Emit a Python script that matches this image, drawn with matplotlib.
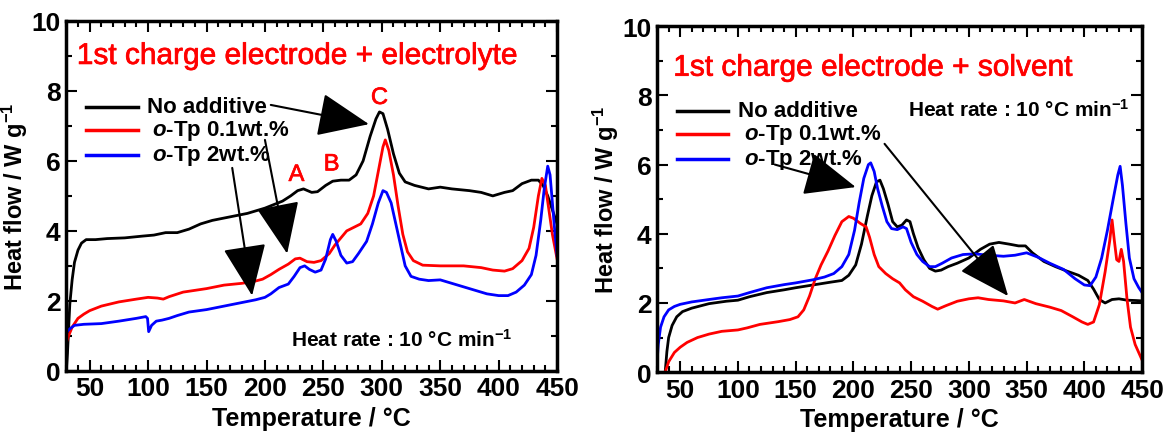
import matplotlib
matplotlib.use("Agg")
import matplotlib.pyplot as plt
import matplotlib.patheffects as pe
from matplotlib.ticker import MultipleLocator

plt.rcParams['font.family'] = ['Liberation Sans', 'DejaVu Sans']
plt.rcParams['font.weight'] = 'bold'
plt.rcParams['mathtext.fontset'] = 'custom'
plt.rcParams['mathtext.it'] = 'Liberation Sans:italic:bold'
plt.rcParams['mathtext.rm'] = 'Liberation Sans:bold'
plt.rcParams['mathtext.default'] = 'rm'

# ---- left panel: electrode + electrolyte ----
l_black_t = [30, 31, 32, 33, 35, 37, 40, 43, 47, 55, 65, 80, 95, 105, 115, 125, 135, 145, 155, 170,
             185, 200, 215, 222, 228, 233, 240, 245, 252, 258, 265, 272, 278, 284, 290, 295, 298, 301,
             305, 310, 315, 320, 328, 340, 350, 360, 375, 385, 395, 405, 412, 420, 428, 434, 438, 442,
             446, 450]
l_black_y = [0.0, 0.5, 1.2, 1.9, 2.6, 3.1, 3.45, 3.65, 3.75, 3.75, 3.78, 3.8, 3.85, 3.88, 3.95, 3.95, 4.05,
             4.2, 4.3, 4.4, 4.5, 4.65, 4.85, 5.0, 5.15, 5.2, 5.1, 5.12, 5.3, 5.42, 5.45, 5.45, 5.6, 6.0, 6.7,
             7.2, 7.4, 7.35, 6.9, 6.2, 5.65, 5.4, 5.3, 5.2, 5.25, 5.2, 5.15, 5.1, 5.0, 5.1, 5.15, 5.35, 5.45,
             5.45, 5.3, 5.0, 4.6, 4.2]

l_red_t = [30, 32, 35, 40, 45, 50, 60, 75, 90, 100, 108, 113, 118, 130, 140, 150, 165, 180, 190, 198,
           205, 212, 220, 226, 230, 236, 242, 248, 255, 260, 265, 270, 276, 282, 288, 293, 297, 301, 303,
           306, 310, 314, 318, 322, 327, 335, 350, 370, 385, 395, 405, 412, 420, 426, 430, 434, 437, 440,
           443, 446, 450]
l_red_y = [0.8, 1.0, 1.25, 1.5, 1.62, 1.72, 1.85, 1.97, 2.05, 2.1, 2.08, 2.05, 2.12, 2.25, 2.3, 2.35, 2.45,
           2.5, 2.55, 2.62, 2.75, 2.9, 3.05, 3.2, 3.22, 3.12, 3.1, 3.15, 3.35, 3.6, 3.8, 4.0, 4.1, 4.2, 4.5,
           5.0, 5.7, 6.4, 6.6, 6.3, 5.6, 4.7, 3.9, 3.4, 3.15, 3.02, 3.0, 3.0, 2.95, 2.88, 2.85, 2.92, 3.15,
           3.5, 4.1, 5.0, 5.5, 5.3, 4.6, 3.9, 3.2]

l_blue_t = [30, 33, 37, 45, 60, 75, 90, 98, 99.5, 100.5, 103, 107, 112, 118, 125, 135, 150, 165, 180,
            192, 200, 205, 212, 220, 225, 230, 234, 238, 243, 248, 252, 256, 258, 261, 265, 270, 275, 280,
            287, 292, 297, 301, 304, 308, 312, 316, 320, 325, 332, 340, 350, 360, 375, 390, 400, 408, 415,
            422, 428, 432, 436, 439, 442, 444, 446, 448, 450]
l_blue_y = [1.1, 1.2, 1.3, 1.33, 1.35, 1.42, 1.5, 1.55, 1.5, 1.12, 1.3, 1.42, 1.45, 1.5, 1.58, 1.68, 1.75,
            1.85, 1.95, 2.03, 2.1, 2.2, 2.38, 2.48, 2.7, 2.95, 3.0, 2.9, 2.82, 2.88, 3.2, 3.75, 3.9, 3.7, 3.3,
            3.08, 3.12, 3.35, 3.7, 4.2, 4.8, 5.15, 5.1, 4.8, 4.2, 3.6, 3.0, 2.7, 2.62, 2.58, 2.6, 2.5, 2.35,
            2.2, 2.15, 2.15, 2.25, 2.45, 2.75, 3.3, 4.3, 5.2, 5.85, 5.6, 4.8, 4.0, 3.3]

# ---- right panel: electrode + solvent ----
r_black_t = [37, 38.5, 40, 43, 47, 52, 60, 75, 90, 100, 110, 125, 140, 150, 165, 180, 190, 196, 202,
             207, 212, 216, 220, 223, 226, 230, 234, 238, 242, 246, 249, 252, 256, 261, 266, 271, 276, 282,
             290, 300, 310, 318, 326, 335, 343, 349, 355, 365, 375, 385, 395, 403, 408, 413, 418, 424, 430,
             437, 445, 450]
r_black_y = [0.0, 0.6, 1.0, 1.35, 1.6, 1.75, 1.85, 1.98, 2.05, 2.08, 2.18, 2.3, 2.38, 2.44, 2.52, 2.6, 2.65,
             2.8, 3.1, 3.7, 4.5, 5.1, 5.5, 5.55, 5.3, 4.85, 4.35, 4.2, 4.25, 4.4, 4.35, 4.0, 3.6, 3.25, 3.0,
             2.92, 2.95, 3.05, 3.15, 3.3, 3.55, 3.7, 3.75, 3.7, 3.65, 3.65, 3.45, 3.2, 3.05, 2.92, 2.8, 2.65,
             2.4, 2.1, 2.0, 2.1, 2.12, 2.08, 2.07, 2.06]

r_red_t = [37, 40, 45, 50, 56, 65, 75, 86, 100, 108, 119, 135, 145, 152, 157, 162, 167, 172, 178, 184,
           190, 196, 200, 206, 211, 214, 218, 222, 228, 234, 240, 245, 252, 260, 268, 273, 280, 290, 300,
           308, 317, 330, 340, 348, 358, 370, 380, 390, 398, 403, 408, 413, 418, 422, 424, 426, 428, 430,
           432, 434, 437, 440, 444, 450]
r_red_y = [0.0, 0.3, 0.57, 0.72, 0.86, 1.0, 1.1, 1.18, 1.22, 1.28, 1.38, 1.46, 1.52, 1.6, 1.8, 2.2, 2.7, 3.1,
           3.5, 3.95, 4.35, 4.5, 4.45, 4.3, 4.2, 3.9, 3.4, 3.05, 2.85, 2.7, 2.58, 2.38, 2.18, 2.05, 1.9, 1.82,
           1.92, 2.05, 2.12, 2.15, 2.1, 2.06, 2.0, 2.1, 1.98, 1.88, 1.78, 1.6, 1.45, 1.38, 1.45, 1.95, 2.9,
           3.8, 4.4, 3.8, 3.25, 3.2, 3.55, 3.2, 2.1, 1.3, 0.8, 0.35]

r_blue_t = [30, 31, 33, 36, 40, 45, 50, 60, 75, 86, 100, 110, 125, 140, 150, 165, 175, 183, 190, 196,
            201, 205, 209, 213, 215, 218, 221, 225, 229, 233, 238, 243, 246, 250, 255, 260, 266, 271, 277,
            285, 295, 305, 317, 330, 340, 350, 360, 370, 382, 392, 400, 405, 410, 415, 420, 425, 429, 431,
            433, 436, 439, 443, 447, 450]
r_blue_y = [0.3, 0.8, 1.3, 1.6, 1.8, 1.9, 1.96, 2.03, 2.1, 2.15, 2.2, 2.3, 2.44, 2.53, 2.58, 2.67, 2.75, 2.85,
            3.05, 3.4, 4.1, 4.9, 5.6, 6.0, 6.05, 5.8, 5.3, 4.8, 4.35, 4.15, 4.12, 4.2, 4.15, 3.75, 3.4, 3.2,
            3.05, 3.05, 3.15, 3.3, 3.4, 3.42, 3.38, 3.35, 3.38, 3.45, 3.32, 3.15, 2.97, 2.7, 2.52, 2.5, 2.75,
            3.3, 4.1, 5.0, 5.7, 5.95, 5.4, 4.3, 3.3, 2.7, 2.45, 2.3]

labels = ['No additive', r'$\it{o}$-Tp 0.1wt.%', r'$\it{o}$-Tp 2wt.%']
colors = ['black', '#ff0000', '#0000ff']
heat_rate = r'Heat rate : 10 °C min$^{\mathregular{-1}}$'

fig = plt.figure(figsize=(11.63, 4.39), dpi=100)
axL = fig.add_axes([0.057, 0.153, 0.422, 0.797])
axR = fig.add_axes([0.565, 0.150, 0.417, 0.788])

thick = [pe.withStroke(linewidth=0.5, foreground='#ff0000')]


def style_axes(ax):
    ax.set_xlim(30, 450)
    ax.set_ylim(0, 10)
    ax.set_xticks(range(50, 451, 50))
    ax.set_yticks(range(0, 11, 2))
    ax.xaxis.set_minor_locator(MultipleLocator(10))
    ax.yaxis.set_minor_locator(MultipleLocator(1))
    ax.tick_params(which='both', direction='in', top=True, right=True, width=1.5)
    ax.tick_params(which='major', length=8, labelsize=19, pad=4)
    ax.tick_params(which='minor', length=4)
    for s in ax.spines.values():
        s.set_linewidth(2.5)
    ax.set_xlabel('Temperature / °C', fontsize=18, fontweight='bold', labelpad=4)
    ax.set_ylabel(r'Heat flow / W g$^{\mathregular{-1}}$', fontsize=17, fontweight='bold', labelpad=1)


def legend_lines(ax, x_text):
    ys = [7.55, 6.88, 6.17]
    for lab, c, y, xt in zip(labels, colors, ys, x_text):
        ax.plot([47, 91], [y, y], color=c, lw=2.5)
        ax.text(xt, y, lab, fontsize=16, fontweight='bold', va='center', ha='left')


def arrow(ax, start, end):
    ax.annotate('', xy=end, xytext=start,
                arrowprops=dict(arrowstyle='-|>,head_length=1.3,head_width=0.55', color='black',
                                lw=1.5, mutation_scale=25, shrinkA=0, shrinkB=0))


# left
style_axes(axL)
axL.plot(l_black_t, l_black_y, color=colors[0], lw=2)
axL.plot(l_red_t, l_red_y, color=colors[1], lw=2)
axL.plot(l_blue_t, l_blue_y, color=colors[2], lw=2)
axL.text(39, 9.0, '1st charge electrode + electrolyte', color='#ff0000', fontsize=21.5,
         fontweight='normal', va='center', ha='left', path_effects=thick)
legend_lines(axL, [99, 103, 103])
arrow(axL, (205, 7.6), (289, 7.05))
arrow(axL, (200, 6.6), (219, 3.35))
arrow(axL, (172, 5.8), (189, 2.15))
for lab, t, y in [('A', 227, 5.6), ('B', 257, 5.9), ('C', 298, 7.8)]:
    axL.text(t, y, lab, color='#ff0000', fontsize=17, fontweight='normal', ha='center', va='center',
             path_effects=thick)
axL.text(222, 0.9, heat_rate, fontsize=15, fontweight='bold', va='center', ha='left')

# right
style_axes(axR)
axR.plot(r_black_t, r_black_y, color=colors[0], lw=2)
axR.plot(r_red_t, r_red_y, color=colors[1], lw=2)
axR.plot(r_blue_t, r_blue_y, color=colors[2], lw=2)
axR.text(44, 8.8, '1st charge electrode + solvent', color='#ff0000', fontsize=21.5,
         fontweight='normal', va='center', ha='left', path_effects=thick)
legend_lines(axR, [100, 105, 105])
arrow(axR, (132, 6.0), (202, 5.35))
arrow(axR, (227, 6.6), (334, 2.2))
axR.text(247, 7.6, heat_rate, fontsize=15, fontweight='bold', va='center', ha='left')

fig.savefig('out.png', dpi=100)
